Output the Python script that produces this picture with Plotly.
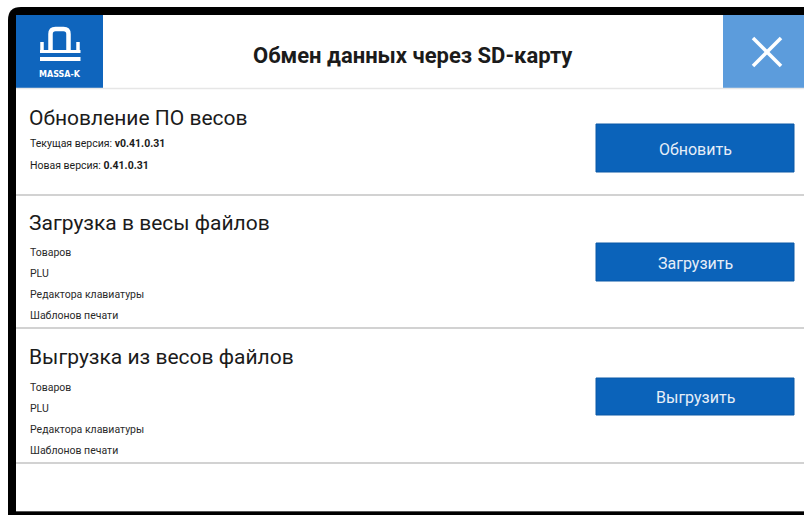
import plotly.graph_objects as go

# ---- content ----
header_title = "Обмен данных через SD-карту"
logo_text = "MASSA-K"
section_titles = ["Обновление ПО весов", "Загрузка в весы файлов", "Выгрузка из весов файлов"]
version_labels = ["Текущая версия: ", "Новая версия: "]
version_values = ["v0.41.0.31", "0.41.0.31"]
load_items = ["Товаров", "PLU", "Редактора клавиатуры", "Шаблонов печати"]
unload_items = ["Товаров", "PLU", "Редактора клавиатуры", "Шаблонов печати"]
button_labels = ["Обновить", "Загрузить", "Выгрузить"]

# ---- layout constants (page pixels) ----
W, H = 804, 515
FONT = "Roboto, 'Open Sans', sans-serif"
BLUE_BTN = "#0b63ba"
BLUE_LOGO = "#0f65bd"
BLUE_CLOSE = "#5c9cdc"
SEP = "#d2d2d2"
TXT = "#1b1b1b"

title_y = [118, 223, 357]
sub_y = [[143, 165], [252, 273, 294, 315], [387, 408, 429, 450]]
btn_y = [(124, 172), (243, 281), (378, 415)]
btn_x = (596, 794)
sep_y = [195, 328, 463]

fig = go.Figure()
fig.add_trace(go.Scatter(x=[0, W], y=[0, H], mode="markers", marker=dict(opacity=0),
                         hoverinfo="skip", showlegend=False))

shapes = []
ann = []

# device frame
shapes.append(dict(type="path", path=f"M 8,{H + 5} L 8,20 Q 8,7 21,7 L {W + 5},7 L {W + 5},{H + 5} Z",
                   fillcolor="#000000", line=dict(width=0), layer="below"))
shapes.append(dict(type="rect", x0=16, y0=15, x1=W + 5, y1=511, fillcolor="#ffffff", line=dict(width=0), layer="below"))
shapes.append(dict(type="line", x0=16, y0=511.5, x1=W + 5, y1=511.5, line=dict(color="#555555", width=1)))

# header
shapes.append(dict(type="rect", x0=16, y0=15, x1=103, y1=88, fillcolor=BLUE_LOGO, line=dict(width=0)))
shapes.append(dict(type="rect", x0=723, y0=15, x1=W + 5, y1=88, fillcolor=BLUE_CLOSE, line=dict(width=0)))
shapes.append(dict(type="line", x0=16, y0=88.5, x1=W + 5, y1=88.5, line=dict(color="#e6e6e6", width=1.5)))

# logo icon
shapes.append(dict(type="path", path="M 50.5,50 L 50.5,34 Q 50.5,29 55.5,29 L 63.5,29 Q 68.5,29 68.5,34 L 68.5,50",
                   line=dict(color="white", width=4.5)))
shapes.append(dict(type="line", x0=42, y0=42, x1=42, y1=51, line=dict(color="white", width=3.5)))
shapes.append(dict(type="line", x0=78, y0=42, x1=78, y1=51, line=dict(color="white", width=3.5)))
shapes.append(dict(type="rect", x0=40, y0=50, x1=80.5, y1=53, fillcolor="white", line=dict(width=0)))
shapes.append(dict(type="rect", x0=40, y0=57, x1=80.5, y1=61, fillcolor="white", line=dict(width=0)))
ann.append(dict(x=60, y=74, text=f"<b>{logo_text}</b>", font=dict(family="DejaVu Sans", size=8, color="white")))

# close X
cx, cy, r = 767, 52, 14
shapes.append(dict(type="line", x0=cx - r, y0=cy - r, x1=cx + r, y1=cy + r, line=dict(color="white", width=3.5)))
shapes.append(dict(type="line", x0=cx - r, y0=cy + r, x1=cx + r, y1=cy - r, line=dict(color="white", width=3.5)))

ann.append(dict(x=413, y=55, text=f"<b>{header_title}</b>", font=dict(family=FONT, size=22, color=TXT)))

# separators
for y in sep_y:
    shapes.append(dict(type="line", x0=16, y0=y, x1=W + 5, y1=y, line=dict(color=SEP, width=2)))

# sections
for i, t in enumerate(section_titles):
    ann.append(dict(x=27, y=title_y[i], text=t, xanchor="left", font=dict(family=FONT, size=21, color=TXT)))

SUB = 10.5
for j, (lab, val) in enumerate(zip(version_labels, version_values)):
    ann.append(dict(x=28, y=sub_y[0][j], text=f"{lab}<b>{val}</b>", xanchor="left",
                    font=dict(family=FONT, size=SUB, color=TXT)))
for j, it in enumerate(load_items):
    ann.append(dict(x=28, y=sub_y[1][j], text=it, xanchor="left", font=dict(family=FONT, size=SUB, color="#2a2a2a")))
for j, it in enumerate(unload_items):
    ann.append(dict(x=28, y=sub_y[2][j], text=it, xanchor="left", font=dict(family=FONT, size=SUB, color="#2a2a2a")))

# buttons
for i, lab in enumerate(button_labels):
    y0, y1 = btn_y[i]
    shapes.append(dict(type="rect", x0=btn_x[0], y0=y0, x1=btn_x[1], y1=y1, fillcolor=BLUE_BTN,
                       line=dict(color="#0a58a6", width=1)))
    ann.append(dict(x=(btn_x[0] + btn_x[1]) / 2, y=(y0 + y1) / 2 + 1, text=lab,
                    font=dict(family=FONT, size=16, color="#e6eef8")))

for a in ann:
    a.setdefault("xanchor", "center")
    a["yanchor"] = "middle"
    a["showarrow"] = False
    a["xref"] = "x"
    a["yref"] = "y"

fig.update_layout(
    width=W, height=H, margin=dict(l=0, r=0, t=0, b=0),
    paper_bgcolor="white", plot_bgcolor="white",
    xaxis=dict(range=[0, W], visible=False, fixedrange=True),
    yaxis=dict(range=[H, 0], visible=False, fixedrange=True),
    shapes=shapes, annotations=ann, showlegend=False,
)
fig.write_html("out.html", config={"displayModeBar": False},
               post_script="document.body.style.margin='0';document.body.style.overflow='hidden';")
